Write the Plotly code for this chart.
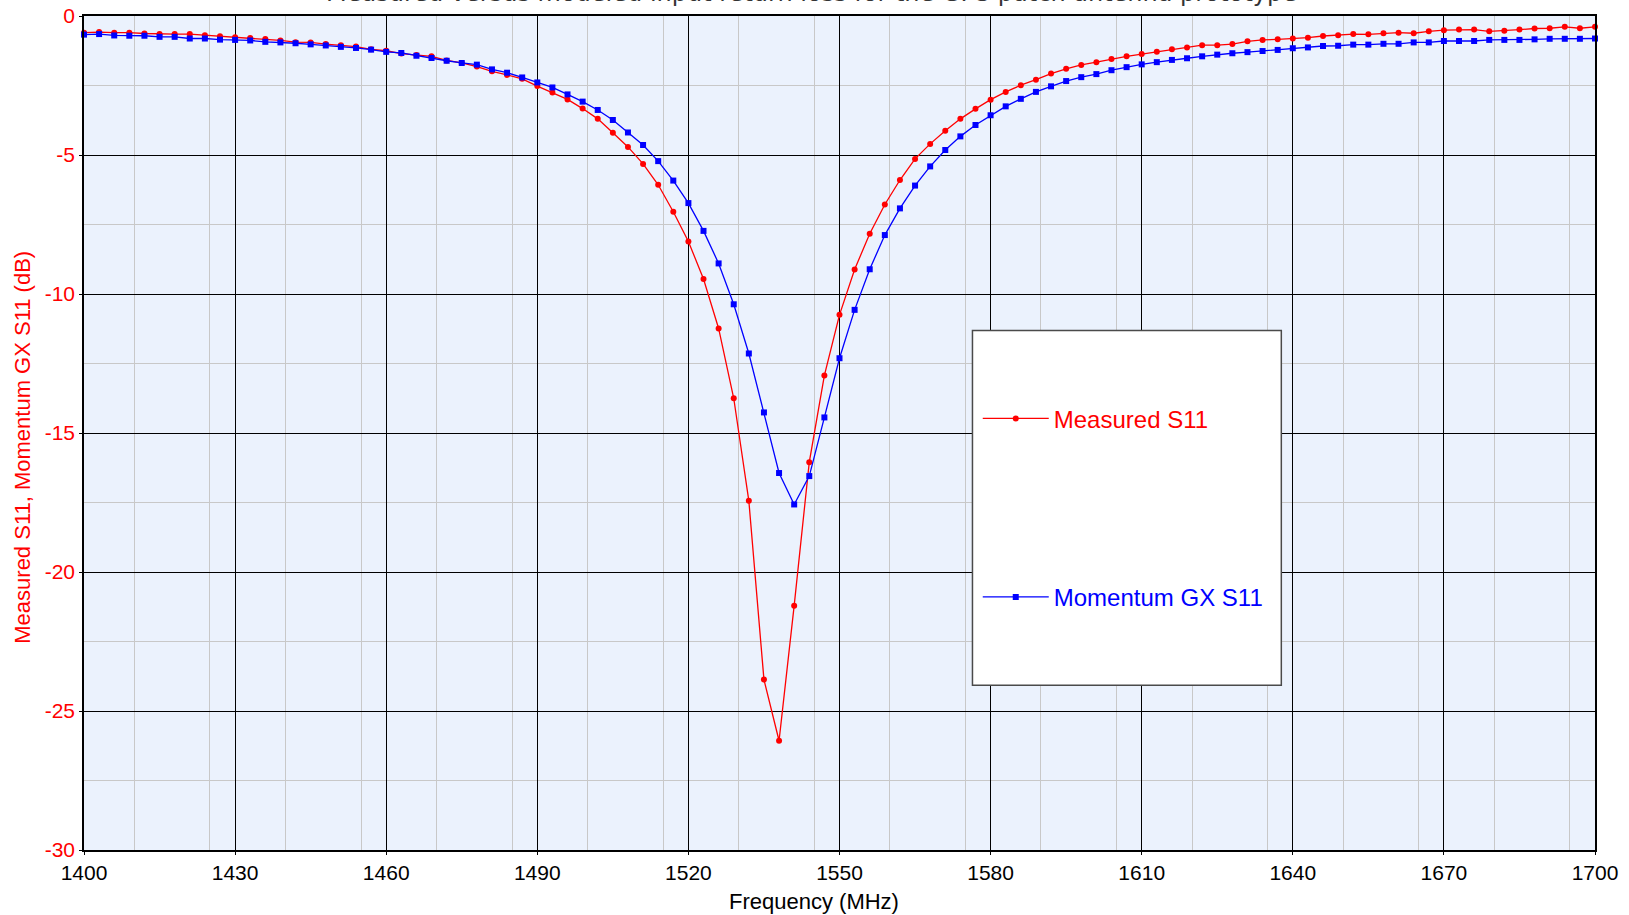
import plotly.graph_objects as go

freq_mhz = [1400, 1403, 1406, 1409, 1412, 1415, 1418, 1421, 1424, 1427,
            1430, 1433, 1436, 1439, 1442, 1445, 1448, 1451, 1454, 1457,
            1460, 1463, 1466, 1469, 1472, 1475, 1478, 1481, 1484, 1487,
            1490, 1493, 1496, 1499, 1502, 1505, 1508, 1511, 1514, 1517,
            1520, 1523, 1526, 1529, 1532, 1535, 1538, 1541, 1544, 1547,
            1550, 1553, 1556, 1559, 1562, 1565, 1568, 1571, 1574, 1577,
            1580, 1583, 1586, 1589, 1592, 1595, 1598, 1601, 1604, 1607,
            1610, 1613, 1616, 1619, 1622, 1625, 1628, 1631, 1634, 1637,
            1640, 1643, 1646, 1649, 1652, 1655, 1658, 1661, 1664, 1667,
            1670, 1673, 1676, 1679, 1682, 1685, 1688, 1691, 1694, 1697,
            1700]

measured_s11 = [-0.60, -0.58, -0.60, -0.60, -0.63, -0.65, -0.65, -0.65, -0.69, -0.73,
                -0.76, -0.79, -0.83, -0.88, -0.94, -0.95, -1.01, -1.05, -1.10, -1.20,
                -1.25, -1.35, -1.40, -1.45, -1.60, -1.69, -1.82, -1.99, -2.12, -2.26,
                -2.52, -2.75, -3.00, -3.33, -3.70, -4.20, -4.71, -5.32, -6.07, -7.04,
                -8.11, -9.46, -11.24, -13.75, -17.44, -23.87, -26.07, -21.21, -16.05, -12.93,
                -10.75, -9.12, -7.83, -6.78, -5.90, -5.14, -4.60, -4.13, -3.70, -3.34,
                -3.01, -2.73, -2.49, -2.29, -2.07, -1.90, -1.76, -1.66, -1.55, -1.45,
                -1.37, -1.29, -1.20, -1.13, -1.05, -1.05, -1.01, -0.91, -0.86, -0.84,
                -0.81, -0.78, -0.72, -0.69, -0.65, -0.66, -0.62, -0.60, -0.62, -0.55,
                -0.51, -0.49, -0.49, -0.55, -0.53, -0.49, -0.45, -0.44, -0.39, -0.44,
                -0.39]

momentum_s11 = [-0.67, -0.65, -0.70, -0.71, -0.71, -0.75, -0.75, -0.81, -0.81, -0.85,
                -0.86, -0.88, -0.93, -0.95, -0.98, -1.02, -1.06, -1.11, -1.15, -1.21,
                -1.29, -1.33, -1.43, -1.51, -1.61, -1.69, -1.75, -1.92, -2.04, -2.21,
                -2.39, -2.57, -2.82, -3.08, -3.38, -3.74, -4.19, -4.64, -5.22, -5.92,
                -6.73, -7.73, -8.90, -10.37, -12.14, -14.26, -16.44, -17.57, -16.55, -14.44,
                -12.31, -10.57, -9.11, -7.88, -6.92, -6.10, -5.41, -4.82, -4.33, -3.92,
                -3.57, -3.25, -2.98, -2.73, -2.53, -2.34, -2.20, -2.09, -1.95, -1.84,
                -1.74, -1.66, -1.58, -1.52, -1.45, -1.39, -1.34, -1.30, -1.26, -1.22,
                -1.16, -1.13, -1.08, -1.07, -1.03, -1.03, -1.00, -1.00, -0.95, -0.95,
                -0.90, -0.90, -0.90, -0.86, -0.86, -0.86, -0.84, -0.82, -0.82, -0.82,
                -0.81]

x_tick_vals = [1400, 1430, 1460, 1490, 1520, 1550, 1580, 1610, 1640, 1670, 1700]
x_tick_text = ["1400", "1430", "1460", "1490", "1520", "1550", "1580", "1610", "1640", "1670", "1700"]
y_tick_vals = [-30, -25, -20, -15, -10, -5, 0]
y_tick_text = ["-30", "-25", "-20", "-15", "-10", "-5", "0"]

title_text = "Measured versus modeled input return loss for the GPS patch antenna prototype"
x_title = "Frequency (MHz)"
y_title = "Measured S11, Momentum GX S11 (dB)"
series_names = ["Measured S11", "Momentum GX S11"]

RED = "#ff0000"
BLUE = "#0000ff"
FONT = "Liberation Sans, Arial, sans-serif"

fig = go.Figure()
fig.add_trace(go.Scatter(
    x=freq_mhz, y=measured_s11, name=series_names[0], mode="lines+markers",
    line=dict(color=RED, width=1.3), marker=dict(color=RED, size=6, symbol="circle"),
    cliponaxis=False, legend="legend"))
fig.add_trace(go.Scatter(
    x=freq_mhz, y=momentum_s11, name=series_names[1], mode="lines+markers",
    line=dict(color=BLUE, width=1.3), marker=dict(color=BLUE, size=6, symbol="square"),
    cliponaxis=False, legend="legend2"))

axis_common = dict(
    showline=True, linecolor="#000000", linewidth=1.5, mirror=True,
    showgrid=True, gridcolor="#000000", gridwidth=1,
    zeroline=False, ticks="outside", ticklen=3, tickcolor="#000000",
    automargin=False,
)

fig.update_xaxes(
    range=[1400, 1700], tickvals=x_tick_vals, ticktext=x_tick_text,
    tickfont=dict(family=FONT, size=21, color="#000000"),
    minor=dict(dtick=15, showgrid=True, gridcolor="#c8c8c8", gridwidth=1, ticks=""),
    **axis_common)
fig.update_yaxes(
    range=[-30, 0], tickvals=y_tick_vals, ticktext=y_tick_text,
    tickfont=dict(family=FONT, size=21, color=RED),
    minor=dict(dtick=2.5, showgrid=True, gridcolor="#c8c8c8", gridwidth=1, ticks=""),
    **axis_common)

fig.update_layout(
    width=1629, height=915,
    margin=dict(l=84, r=34, t=16, b=65, autoexpand=False),
    plot_bgcolor="#ebf2fd", paper_bgcolor="#ffffff",
    showlegend=True,
    legend=dict(x=0.5915, y=0.517, xanchor="left", yanchor="middle",
                bgcolor="rgba(0,0,0,0)", borderwidth=0, itemwidth=66,
                font=dict(family=FONT, size=24, color=RED)),
    legend2=dict(x=0.5915, y=0.303, xanchor="left", yanchor="middle",
                 bgcolor="rgba(0,0,0,0)", borderwidth=0, itemwidth=66,
                 font=dict(family=FONT, size=24, color=BLUE)),
    shapes=[dict(type="rect", xref="paper", yref="paper",
                 x0=0.588, x1=0.7924, y0=0.1974, y1=0.623,
                 fillcolor="#ffffff", line=dict(color="#4a4a4a", width=1.5),
                 layer="above")],
    annotations=[
        dict(text=title_text, xref="paper", yref="paper", x=0.4816, y=1.0078,
             xanchor="center", yanchor="bottom", showarrow=False,
             font=dict(family="DejaVu Sans", size=24, color="#333333")),
        dict(text=x_title, xref="paper", yref="paper", x=0.483, y=-0.0616,
             xanchor="center", yanchor="middle", showarrow=False,
             font=dict(family=FONT, size=22, color="#000000")),
        dict(text=y_title, xref="paper", yref="paper", x=-0.0405, y=0.4833,
             xanchor="center", yanchor="middle", showarrow=False, textangle=-90,
             font=dict(family=FONT, size=22, color=RED)),
    ],
)

fig.write_html("out.html", config={"displayModeBar": False},
               post_script="document.body.style.margin='0';")
